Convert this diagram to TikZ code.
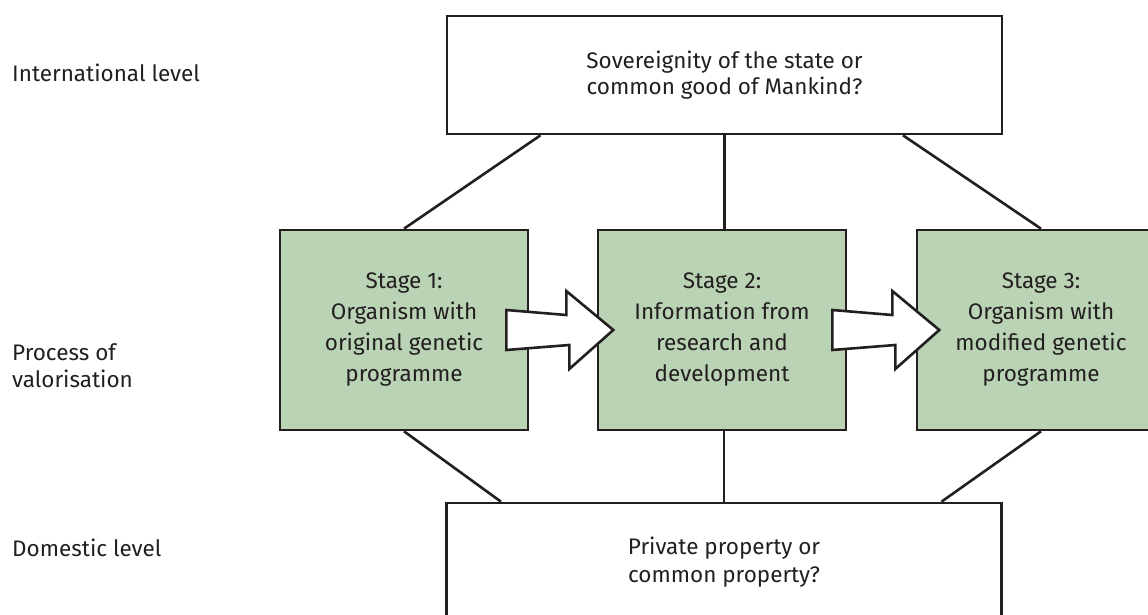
\documentclass[tikz,border=0pt]{standalone}
\usepackage{fontspec}
\setmainfont{Fira Sans}
\usetikzlibrary{calc}
\definecolor{stagegreen}{HTML}{BAD3B4}
\definecolor{inkgray}{HTML}{231F20}
\tikzset{
    stagebox/.style={draw=inkgray, line width=2.6pt, fill=stagegreen, minimum width=248pt, minimum height=200pt,
        align=center, text=inkgray, font=\fontsize{22.5}{31}\selectfont},
    levelbox/.style={draw=inkgray, line width=2.6pt, fill=white, minimum width=555pt, minimum height=118pt,
        align=center, text=inkgray},
    levellabel/.style={anchor=west, align=left, inner sep=0pt, text=inkgray, font=\fontsize{22.5}{27}\selectfont},
    link/.style={draw=inkgray, line width=2.6pt},
    blockarrow/.style={draw=inkgray, line width=2.6pt, fill=white, line join=miter}
}
\begin{document}
\begin{tikzpicture}[x=1pt, y=-1pt]
        \useasboundingbox (0, 0) rectangle (1148, 615);
        % levels on the left
        \node [levellabel] (intl) at (12, 73) {International level};
        \node [levellabel] (proc) at (12, 366) {Process of\\valorisation};
        \node [levellabel] (dom) at (12, 548) {Domestic level};
        % boxes
        \node [levelbox, font=\fontsize{22.5}{26}\selectfont] (sov) at (724.5, 75) {Sovereignity of the state or\\common good of Mankind?};
        \node [levelbox, font=\fontsize{22.5}{28}\selectfont] (prop) at (724, 562) {Private property or\\common property?};
        \node [stagebox] (s1) at (404, 330) {Stage 1:\\Organism with\\original genetic\\programme};
        \node [stagebox] (s2) at (722, 330) {Stage 2:\\Information from\\research and\\development};
        \node [stagebox] (s3) at (1041, 330) {Stage 3:\\Organism with\\modified genetic\\programme};
        % links between the levels
        \draw [link] (s1.north) -- ($(sov.south west)!0.17!(sov.south east)$);
        \draw [link] (sov.south) -- (sov.south |- s2.north);
        \draw [link] (s3.north) -- ($(sov.south west)!0.82!(sov.south east)$);
        \draw [link] (s1.south) -- ($(prop.north west)!0.10!(prop.north east)$);
        \draw [link] (prop.north) -- (prop.north |- s2.south);
        \draw [link] (s3.south) -- ($(prop.north west)!0.89!(prop.north east)$);
        % arrows between the stages
        \foreach \a/\d in {s1/-23, s2/-15}
            \draw [blockarrow, shift={($(\a.east)+(\d, 0)$)}] (0, -20) -- (60, -15) -- (60, -39)
                -- (107, 0) -- (63, 39) -- (63, 15) -- (0, 20) -- cycle;
    \end{tikzpicture}
\end{document}
